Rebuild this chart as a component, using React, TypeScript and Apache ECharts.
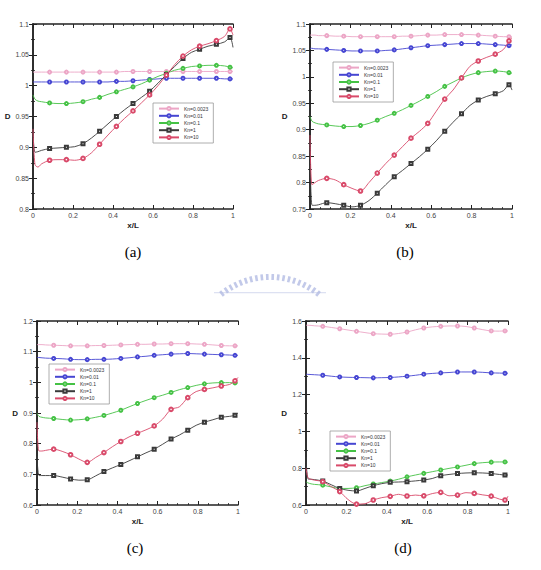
import React, { useEffect, useRef } from "react";
import * as echarts from "echarts";

// Shared x/L sample positions for every curve
const X = [0, 0.01, 0.025, 0.042, 0.083, 0.125, 0.167, 0.208, 0.25, 0.292, 0.333, 0.375, 0.417, 0.458, 0.5, 0.542, 0.583, 0.625, 0.667, 0.708, 0.75, 0.792, 0.833, 0.875, 0.917, 0.958, 0.985, 1];
// Sample indices that carry a marker symbol
const MARKER_IDX = [4, 6, 8, 10, 12, 14, 16, 18, 20, 22, 24, 26];

const KN = ["Kn=0.0023", "Kn=0.01", "Kn=0.1", "Kn=1", "Kn=10"];
const COLORS = ["#eca6c6", "#4646d2", "#45c245", "#3a3a3a", "#d94a6a"];

// Panel (a)
const A_KN0023 = [1.022, 1.022, 1.022, 1.022, 1.022, 1.022, 1.022, 1.022, 1.022, 1.022, 1.022, 1.022, 1.022, 1.023, 1.023, 1.023, 1.023, 1.023, 1.023, 1.023, 1.023, 1.023, 1.023, 1.023, 1.023, 1.023, 1.023, 1.023];
const A_KN001 = [1.006, 1.006, 1.006, 1.006, 1.006, 1.006, 1.006, 1.006, 1.006, 1.006, 1.006, 1.006, 1.007, 1.007, 1.008, 1.009, 1.010, 1.011, 1.012, 1.012, 1.012, 1.012, 1.012, 1.012, 1.012, 1.011, 1.011, 1.011];
const A_KN01 = [0.985, 0.978, 0.975, 0.974, 0.972, 0.971, 0.971, 0.972, 0.974, 0.978, 0.981, 0.986, 0.990, 0.994, 0.998, 1.003, 1.009, 1.015, 1.020, 1.025, 1.028, 1.031, 1.032, 1.033, 1.033, 1.032, 1.030, 1.029];
const A_KN1 = [0.925, 0.892, 0.893, 0.895, 0.898, 0.899, 0.900, 0.901, 0.906, 0.915, 0.926, 0.938, 0.950, 0.961, 0.971, 0.981, 0.991, 1.004, 1.018, 1.031, 1.044, 1.054, 1.059, 1.064, 1.067, 1.071, 1.078, 1.062];
const A_KN10 = [0.930, 0.872, 0.868, 0.873, 0.879, 0.880, 0.880, 0.879, 0.882, 0.891, 0.905, 0.920, 0.934, 0.947, 0.959, 0.972, 0.985, 1.000, 1.017, 1.034, 1.048, 1.058, 1.064, 1.068, 1.073, 1.080, 1.092, 1.082];

// Panel (b)
const B_KN0023 = [1.079, 1.079, 1.079, 1.078, 1.078, 1.077, 1.077, 1.076, 1.076, 1.076, 1.076, 1.076, 1.076, 1.077, 1.077, 1.078, 1.079, 1.079, 1.080, 1.080, 1.080, 1.080, 1.079, 1.078, 1.077, 1.076, 1.076, 1.076];
const B_KN001 = [1.054, 1.054, 1.053, 1.053, 1.052, 1.051, 1.050, 1.049, 1.049, 1.049, 1.049, 1.050, 1.051, 1.053, 1.055, 1.057, 1.059, 1.060, 1.061, 1.062, 1.063, 1.063, 1.063, 1.062, 1.061, 1.060, 1.059, 1.061];
const B_KN01 = [0.925, 0.916, 0.913, 0.911, 0.909, 0.907, 0.906, 0.906, 0.908, 0.912, 0.918, 0.925, 0.931, 0.938, 0.946, 0.954, 0.963, 0.972, 0.982, 0.990, 0.998, 1.004, 1.008, 1.010, 1.011, 1.010, 1.008, 1.007];
const B_KN1 = [0.870, 0.757, 0.757, 0.758, 0.762, 0.760, 0.757, 0.754, 0.757, 0.766, 0.780, 0.796, 0.811, 0.823, 0.836, 0.849, 0.863, 0.879, 0.897, 0.914, 0.930, 0.946, 0.956, 0.963, 0.968, 0.974, 0.985, 0.975];
const B_KN10 = [0.890, 0.796, 0.800, 0.804, 0.808, 0.805, 0.796, 0.789, 0.784, 0.800, 0.818, 0.836, 0.852, 0.868, 0.884, 0.897, 0.912, 0.935, 0.958, 0.975, 0.998, 1.020, 1.030, 1.037, 1.043, 1.052, 1.068, 1.074];

// Panel (c)
const C_KN0023 = [1.123, 1.123, 1.123, 1.122, 1.121, 1.120, 1.119, 1.119, 1.119, 1.120, 1.120, 1.121, 1.122, 1.123, 1.124, 1.124, 1.125, 1.125, 1.126, 1.126, 1.126, 1.125, 1.124, 1.122, 1.120, 1.119, 1.119, 1.119];
const C_KN001 = [1.081, 1.081, 1.080, 1.079, 1.078, 1.077, 1.075, 1.074, 1.074, 1.075, 1.075, 1.076, 1.078, 1.080, 1.083, 1.085, 1.088, 1.090, 1.092, 1.093, 1.094, 1.093, 1.092, 1.091, 1.090, 1.089, 1.088, 1.088];
const C_KN01 = [0.899, 0.889, 0.886, 0.884, 0.882, 0.879, 0.877, 0.878, 0.881, 0.886, 0.892, 0.900, 0.909, 0.920, 0.931, 0.941, 0.950, 0.958, 0.967, 0.976, 0.983, 0.990, 0.995, 0.998, 0.999, 0.999, 0.998, 0.998];
const C_KN1 = [0.760, 0.696, 0.696, 0.696, 0.696, 0.691, 0.685, 0.681, 0.682, 0.695, 0.709, 0.721, 0.732, 0.744, 0.757, 0.770, 0.782, 0.798, 0.815, 0.828, 0.844, 0.860, 0.870, 0.878, 0.886, 0.889, 0.893, 0.900];
const C_KN10 = [0.870, 0.776, 0.776, 0.778, 0.782, 0.775, 0.764, 0.750, 0.739, 0.755, 0.771, 0.790, 0.807, 0.822, 0.834, 0.845, 0.858, 0.880, 0.912, 0.920, 0.950, 0.970, 0.977, 0.982, 0.988, 0.993, 1.005, 1.016];

// Panel (d)
const D_KN0023 = [1.577, 1.577, 1.576, 1.574, 1.571, 1.565, 1.558, 1.551, 1.544, 1.537, 1.531, 1.529, 1.528, 1.532, 1.540, 1.552, 1.562, 1.568, 1.571, 1.573, 1.573, 1.570, 1.562, 1.553, 1.546, 1.545, 1.546, 1.546];
const D_KN001 = [1.311, 1.310, 1.309, 1.308, 1.305, 1.300, 1.296, 1.294, 1.293, 1.292, 1.291, 1.292, 1.293, 1.296, 1.300, 1.305, 1.311, 1.315, 1.318, 1.320, 1.323, 1.323, 1.323, 1.321, 1.318, 1.317, 1.316, 1.316];
const D_KN01 = [0.726, 0.720, 0.715, 0.712, 0.708, 0.698, 0.690, 0.690, 0.694, 0.705, 0.714, 0.722, 0.730, 0.740, 0.753, 0.763, 0.772, 0.781, 0.790, 0.799, 0.807, 0.816, 0.825, 0.830, 0.833, 0.834, 0.834, 0.833];
const D_KN1 = [0.860, 0.742, 0.740, 0.738, 0.730, 0.710, 0.690, 0.680, 0.676, 0.690, 0.705, 0.716, 0.723, 0.725, 0.727, 0.731, 0.736, 0.744, 0.759, 0.766, 0.771, 0.774, 0.775, 0.774, 0.771, 0.766, 0.763, 0.763];
const D_KN10 = [0.800, 0.748, 0.740, 0.735, 0.727, 0.700, 0.673, 0.630, 0.605, 0.607, 0.627, 0.640, 0.647, 0.658, 0.649, 0.654, 0.650, 0.662, 0.669, 0.650, 0.654, 0.667, 0.663, 0.655, 0.648, 0.632, 0.627, 0.648];

// Y-axis ranges per panel
const Y_RANGES = [
  { min: 0.8, max: 1.1, interval: 0.05 },
  { min: 0.75, max: 1.1, interval: 0.05 },
  { min: 0.6, max: 1.2, interval: 0.1 },
  { min: 0.6, max: 1.6, interval: 0.2 },
];
const CAPTIONS = ["(a)", "(b)", "(c)", "(d)"];
const SERIES_BY_PANEL = [
  [A_KN0023, A_KN001, A_KN01, A_KN1, A_KN10],
  [B_KN0023, B_KN001, B_KN01, B_KN1, B_KN10],
  [C_KN0023, C_KN001, C_KN01, C_KN1, C_KN10],
  [D_KN0023, D_KN001, D_KN01, D_KN1, D_KN10],
];

// Layout of the four panels
const LAYOUT = [
  { grid: { left: 33, top: 24, width: 200, height: 185 }, legend: { left: 153, top: 103 }, caption: [133, 252] },
  { grid: { left: 310, top: 24, width: 202, height: 185 }, legend: { left: 333, top: 62 }, caption: [405, 252] },
  { grid: { left: 37, top: 321, width: 201, height: 184 }, legend: { left: 49, top: 364 }, caption: [135, 548] },
  { grid: { left: 306, top: 321, width: 202, height: 184 }, legend: { left: 330, top: 431 }, caption: [403, 548] },
];

const AXIS_COLOR = "#222";
const LABEL_FONT = "Liberation Sans";

const fmt = (v: number) => String(+v.toFixed(2));

function buildLogo() {
  // light blue crenellated arc watermark
  const cx = 270;
  const cy = 355;
  const r = 80;
  const n = 20;
  const color = "#b3bce3";
  const children: any[] = [];
  for (let i = 0; i < n; i++) {
    const a = ((-38 + (76 * i) / (n - 1)) * Math.PI) / 180;
    const ux = Math.sin(a);
    const uy = -Math.cos(a);
    const px = -uy;
    const py = ux;
    const hw = 1.3;
    const r0 = r - 5;
    const r1 = r + 1;
    children.push({
      type: "polygon",
      shape: {
        points: [
          [cx + ux * r0 - px * hw, cy + uy * r0 - py * hw],
          [cx + ux * r0 + px * hw, cy + uy * r0 + py * hw],
          [cx + ux * r1 + px * hw, cy + uy * r1 + py * hw],
          [cx + ux * r1 - px * hw, cy + uy * r1 - py * hw],
        ],
      },
      style: { fill: color, opacity: 0.8 },
    });
  }
  children.push({
    type: "rect",
    shape: { x: 214, y: 292, width: 112, height: 1.2 },
    style: { fill: color, opacity: 0.45 },
  });
  return { type: "group", children };
}

function buildOption() {
  const grid: any[] = [];
  const xAxis: any[] = [];
  const yAxis: any[] = [];
  const series: any[] = [];
  const legend: any[] = [];
  const graphic: any[] = [];

  LAYOUT.forEach((L, i) => {
    grid.push({ ...L.grid, show: false });
    const tick = { show: true, inside: true, length: 4, lineStyle: { color: AXIS_COLOR, width: 1 } };
    const minor = { show: true, splitNumber: 4, length: 2, lineStyle: { color: AXIS_COLOR, width: 0.8 } };
    const line = { show: true, lineStyle: { color: AXIS_COLOR, width: 1.5 } };
    const label = { fontSize: 7, color: "#444", fontFamily: LABEL_FONT };
    xAxis.push({
      type: "value", gridIndex: i, position: "bottom", min: 0, max: 1, interval: 0.2,
      axisLine: line, axisTick: tick, minorTick: minor, splitLine: { show: false },
      axisLabel: { ...label, margin: 3, formatter: fmt },
      name: "x/L", nameLocation: "middle", nameGap: 12,
      nameTextStyle: { fontSize: 8, fontWeight: "bold", color: AXIS_COLOR, fontFamily: LABEL_FONT },
    });
    xAxis.push({
      type: "value", gridIndex: i, position: "top", min: 0, max: 1, interval: 0.2,
      axisLine: line, axisTick: tick, minorTick: minor, splitLine: { show: false },
      axisLabel: { show: false },
    });
    const yr = Y_RANGES[i];
    yAxis.push({
      type: "value", gridIndex: i, position: "left", min: yr.min, max: yr.max, interval: yr.interval,
      axisLine: line, axisTick: tick, minorTick: { ...minor, splitNumber: 2 }, splitLine: { show: false },
      axisLabel: { ...label, margin: 4, formatter: fmt },
      name: "D", nameLocation: "middle", nameRotate: 0, nameGap: 19,
      nameTextStyle: { fontSize: 8, fontWeight: "bold", color: AXIS_COLOR, fontFamily: LABEL_FONT },
    });
    yAxis.push({
      type: "value", gridIndex: i, position: "right", min: yr.min, max: yr.max, interval: yr.interval,
      axisLine: line, axisTick: tick, minorTick: { ...minor, splitNumber: 2 }, splitLine: { show: false },
      axisLabel: { show: false },
    });

    SERIES_BY_PANEL[i].forEach((ys, k) => {
      series.push({
        type: "line",
        name: KN[k],
        xAxisIndex: 2 * i,
        yAxisIndex: 2 * i,
        smooth: 0.3,
        symbol: k === 3 ? "emptyRect" : "emptyCircle",
        symbolSize: k === 4 ? 3.6 : 3,
        lineStyle: { width: 0.9, color: COLORS[k] },
        itemStyle: { color: COLORS[k], borderColor: COLORS[k], borderWidth: 0.6 },
        z: 2 + k,
        data: ys.map((y, j) =>
          MARKER_IDX.includes(j) ? [X[j], y] : { value: [X[j], y], symbol: "none" }
        ),
      });
    });

    legend.push({
      data: KN,
      orient: "vertical",
      left: L.legend.left,
      top: L.legend.top,
      itemWidth: 20,
      itemHeight: 4,
      itemGap: 2,
      padding: [3, 5],
      borderColor: "#999",
      borderWidth: 0.8,
      backgroundColor: "#fff",
      textStyle: { fontSize: 5, color: "#333", fontFamily: LABEL_FONT },
    });

    graphic.push({
      type: "text",
      x: L.caption[0],
      y: L.caption[1],
      style: {
        text: CAPTIONS[i],
        font: '15px "Liberation Serif"',
        fill: "#000",
        textAlign: "center",
        textVerticalAlign: "middle",
      },
    });
  });

  graphic.push(buildLogo());

  return { animation: false, backgroundColor: "#fff", grid, xAxis, yAxis, series, legend, graphic };
}

export default function App() {
  const ref = useRef<HTMLDivElement>(null);
  useEffect(() => {
    if (!ref.current) return;
    const chart = echarts.init(ref.current, undefined, { renderer: "svg" });
    chart.setOption(buildOption() as any);
    return () => chart.dispose();
  }, []);
  return (
    <div
      ref={ref}
      style={{ position: "absolute", left: 0, top: 0, width: 541, height: 570, background: "#fff" }}
    />
  );
}
